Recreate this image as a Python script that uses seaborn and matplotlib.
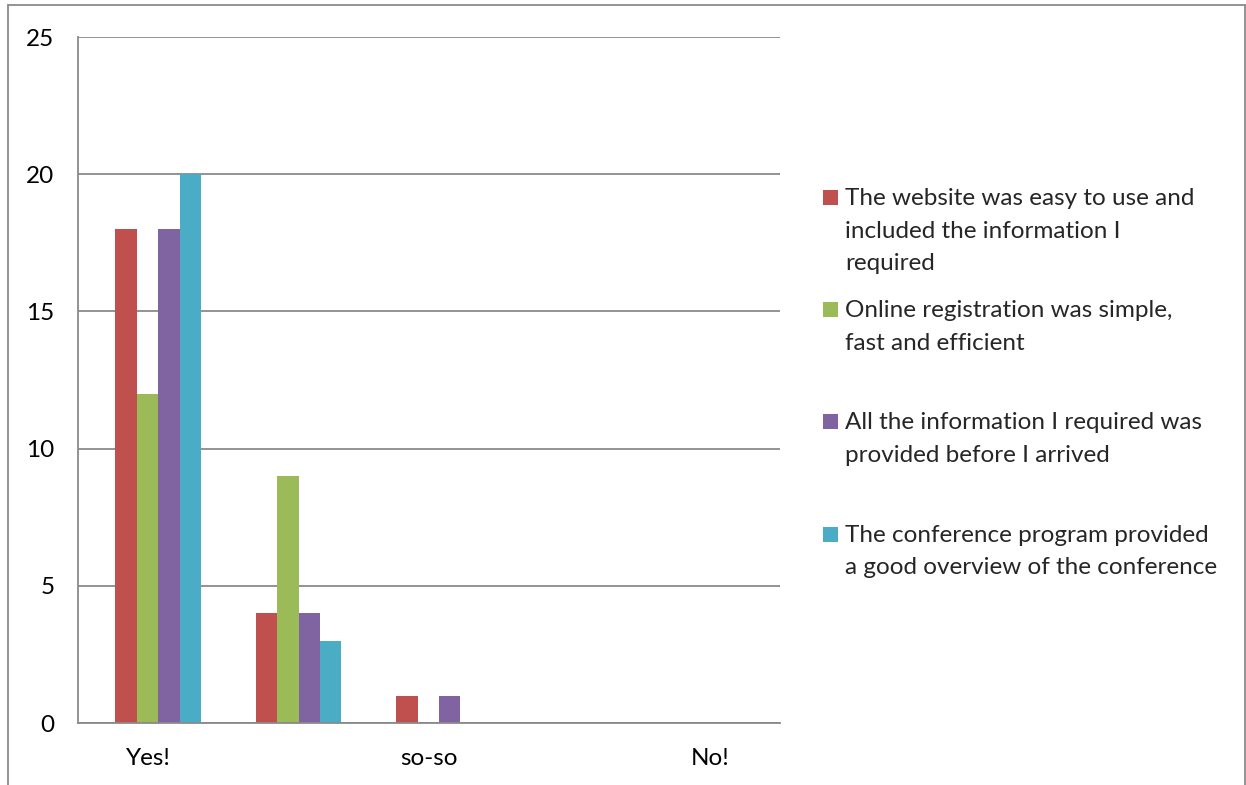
import numpy as np
import pandas as pd
import matplotlib
matplotlib.use("Agg")
import matplotlib.pyplot as plt
from matplotlib.patches import Rectangle
from matplotlib.lines import Line2D
import seaborn as sns

# answer categories (unlabelled slots between the named ones)
categories = ["Yes!", "", "so-so", " ", "No!"]
series = [
    "The website was easy to use and\nincluded the information I\nrequired",
    "Online registration was simple,\nfast and efficient",
    "All the information I required was\nprovided before I arrived",
    "The conference program provided\na good overview of the conference",
]
website = [18, 4, 1, 0, 0]
registration = [12, 9, 0, 0, 0]
information = [18, 4, 1, 0, 0]
program = [20, 3, 0, 0, 0]
colors = ["#C0504D", "#9BBB59", "#8064A2", "#4BACC6"]
y_ticks = [0, 5, 10, 15, 20, 25]

W, H = 1246, 785
GRAY = "#8a8a8a"
FS = 17.5

rows = []
for name, vals in zip(series, [website, registration, information, program]):
    for cat, v in zip(categories, vals):
        rows.append({"Answer": cat, "Series": name, "Count": v})
df = pd.DataFrame(rows)

sns.set_theme(style="white")
plt.rcParams["font.family"] = ["Lato", "DejaVu Sans"]
plt.rcParams["font.size"] = FS

fig = plt.figure(figsize=(W / 100, H / 100), dpi=100)
ax = fig.add_axes([78 / W, 1 - 723 / H, (780 - 78) / W, (723 - 37) / H])

sns.barplot(data=df, x="Answer", y="Count", hue="Series", order=categories,
            hue_order=series, palette=colors, width=0.61, saturation=1,
            linewidth=0, legend=False, ax=ax)

shift = 0.071
ax.set_xlim(-0.5 - shift, len(categories) - 0.5 - shift)
ax.set_xticks(np.arange(len(categories)) - shift)
ax.set_xticklabels(categories)
ax.set_ylim(0, 25)
ax.set_yticks(y_ticks)
ax.set_xlabel("")
ax.set_ylabel("")
ax.yaxis.grid(True, color=GRAY, linewidth=1.3)
ax.set_axisbelow(True)
ax.tick_params(axis="y", length=0, pad=17, labelsize=FS, colors="black")
ax.tick_params(axis="x", length=0, pad=18, labelsize=FS, colors="black")
for s in ["top", "right"]:
    ax.spines[s].set_visible(False)
for s in ["left", "bottom"]:
    ax.spines[s].set_color(GRAY)
    ax.spines[s].set_linewidth(1.3)

# hand-placed legend: square aligned with first line of each label
baselines = [205, 317, 429, 542]
line_px = 32.5
for name, col, yb in zip(series, colors, baselines):
    fig.add_artist(Rectangle((823 / W, 1 - yb / H), 15 / W, 15 / H,
                             transform=fig.transFigure, color=col, lw=0))
    for i, line in enumerate(name.split("\n")):
        fig.text(845 / W, 1 - (yb + i * line_px) / H, line, ha="left",
                 va="baseline", fontsize=FS)

# outer chart frame
for xs, ys in [([8, 8], [5, H]), ([8, 1245], [5, 5]), ([1245, 1245], [5, H])]:
    fig.add_artist(Line2D([x / W for x in xs], [1 - y / H for y in ys],
                          transform=fig.transFigure, color=GRAY, lw=1.3))

plt.savefig("out.png", dpi=100)
plt.close()
